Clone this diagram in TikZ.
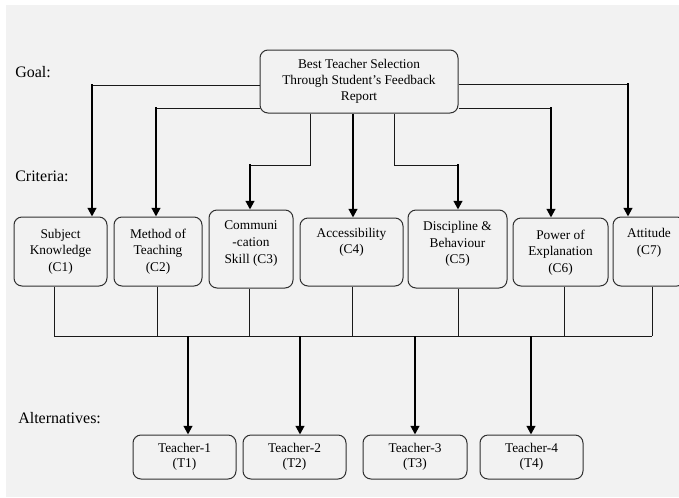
\documentclass[tikz,border=0pt]{standalone}
\usepackage{fontspec}
\setmainfont{Liberation Serif}
\usetikzlibrary{arrows.meta}
\definecolor{bgc}{HTML}{F2F2F2}
\definecolor{boxc}{HTML}{303030}
\definecolor{linec}{HTML}{1A1A1A}
\begin{document}
\begin{tikzpicture}[x=0.75pt,y=-0.75pt,
  box/.style={draw=boxc, line width=0.75pt, rounded corners=6pt, fill=bgc, inner sep=0pt},
  tbox/.style={box, align=center, font=\fontsize{10}{11.5}\selectfont},
  txt/.style={align=center, inner sep=0pt, anchor=north, font=\fontsize{10}{12.5}\selectfont},
  lab/.style={anchor=base west, inner sep=0pt, font=\fontsize{12}{14}\selectfont},
  link/.style={draw=linec, line width=0.75pt},
  arr/.style={draw=black, line width=1.5pt, -{Triangle[width=6.5pt,length=6.5pt]}}
]
\useasboundingbox (0,0) rectangle (679,497);
\fill[white] (0,0) rectangle (679,497);
\fill[bgc] (6,5) rectangle (679,497);
\clip (0,0) rectangle (679,497);

% level labels
\node[lab] (goal) at (15,77) {Goal:};
\node[lab] (crit) at (15,181.5) {Criteria:};
\node[lab] (alt) at (18,423) {Alternatives:};

% goal
\node[tbox, minimum width=148.5pt, minimum height=47.25pt, font=\fontsize{10}{12}\selectfont] (G) at (359,81.5)
  {Best Teacher Selection\\Through Student’s Feedback\\Report};

% criteria boxes
\node[box, minimum width=69.75pt, minimum height=51.75pt] (C1) at (60.5,251.5) {};
\node[box, minimum width=66pt,    minimum height=51.75pt] (C2) at (158,251.5) {};
\node[box, minimum width=63pt,    minimum height=58.5pt]  (C3) at (251,249) {};
\node[box, minimum width=77.25pt, minimum height=51pt]    (C4) at (351.5,252) {};
\node[box, minimum width=74.25pt, minimum height=58.5pt]  (C5) at (457.5,249) {};
\node[box, minimum width=71.25pt, minimum height=51pt]    (C6) at (560.5,252) {};
\node[box, minimum width=54pt,    minimum height=51.75pt] (C7) at (649,251.5) {};

\node[txt] (C1t) at ([yshift=-9pt]C1.north) {Subject\\Knowledge\\(C1)};
\node[txt] (C2t) at ([yshift=-9pt]C2.north) {Method of\\Teaching\\(C2)};
\node[txt] (C3t) at ([yshift=-8.5pt]C3.north) {Communi\\-cation\\Skill (C3)};
\node[txt] (C4t) at ([yshift=-7.5pt]C4.north) {Accessibility\\(C4)};
\node[txt] (C5t) at ([yshift=-8.5pt]C5.north) {Discipline \&\\Behaviour\\(C5)};
\node[txt] (C6t) at ([yshift=-9pt]C6.north) {Power of\\Explanation\\(C6)};
\node[txt] (C7t) at ([yshift=-8.5pt]C7.north) {Attitude\\(C7)};

% alternatives
\node[tbox, minimum width=77.25pt, minimum height=33pt] (T1) at (184.5,457) {Teacher-1\\(T1)};
\node[tbox, minimum width=77.25pt, minimum height=33pt] (T2) at (294.5,457) {Teacher-2\\(T2)};
\node[tbox, minimum width=78pt,    minimum height=33pt] (T3) at (415,457)   {Teacher-3\\(T3)};
\node[tbox, minimum width=77.25pt, minimum height=33pt] (T4) at (531.5,457) {Teacher-4\\(T4)};

% goal -> criteria
\coordinate (k1) at (92,85);
\coordinate (k2) at (156,108);
\coordinate (j3) at (310,165);
\coordinate (k3) at (250,165);
\coordinate (k4) at (353,165);
\coordinate (j5) at (394,165);
\coordinate (k5) at (458,165);
\coordinate (k6) at (551,108);
\coordinate (k7) at (628,84);

\draw[link] (G.west |- k1) -- (k1);
\draw[arr] ([yshift=0.5pt]k1) -- (k1 |- C1.north);
\draw[link] (G.west |- k2) -- (k2);
\draw[arr] ([yshift=0.5pt]k2) -- (k2 |- C2.north);
\draw[link] (j3 |- G.south) -- (j3) -- (k3);
\draw[arr] ([yshift=0.5pt]k3) -- (k3 |- C3.north);
\draw[arr] (k4 |- G.south) -- (k4 |- C4.north);
\draw[link] (j5 |- G.south) -- (j5) -- (k5);
\draw[arr] ([yshift=0.5pt]k5) -- (k5 |- C5.north);
\draw[link] (G.east |- k6) -- (k6);
\draw[arr] ([yshift=0.5pt]k6) -- (k6 |- C6.north);
\draw[link] (G.east |- k7) -- (k7);
\draw[arr] ([yshift=0.5pt]k7) -- (k7 |- C7.north);

% criteria -> bus
\coordinate (b1) at (54,336);
\coordinate (b2) at (157,336);
\coordinate (b3) at (249,336);
\coordinate (b4) at (352,336);
\coordinate (b5) at (458,336);
\coordinate (b6) at (564,336);
\coordinate (b7) at (652,336);
\draw[link] (b1 |- C1.south) -- (b1);
\draw[link] (b2 |- C2.south) -- (b2);
\draw[link] (b3 |- C3.south) -- (b3);
\draw[link] (b4 |- C4.south) -- (b4);
\draw[link] (b5 |- C5.south) -- (b5);
\draw[link] (b6 |- C6.south) -- (b6);
\draw[link] (b7 |- C7.south) -- (b7);
\draw[link] (b1) -- (b7);

% bus -> alternatives
\coordinate (d1) at (188,336);
\coordinate (d2) at (300,336);
\coordinate (d3) at (415,336);
\coordinate (d4) at (531,336);
\draw[arr] (d1) -- (d1 |- T1.north);
\draw[arr] (d2) -- (d2 |- T2.north);
\draw[arr] (d3) -- (d3 |- T3.north);
\draw[arr] (d4) -- (d4 |- T4.north);
\end{tikzpicture}
\end{document}
